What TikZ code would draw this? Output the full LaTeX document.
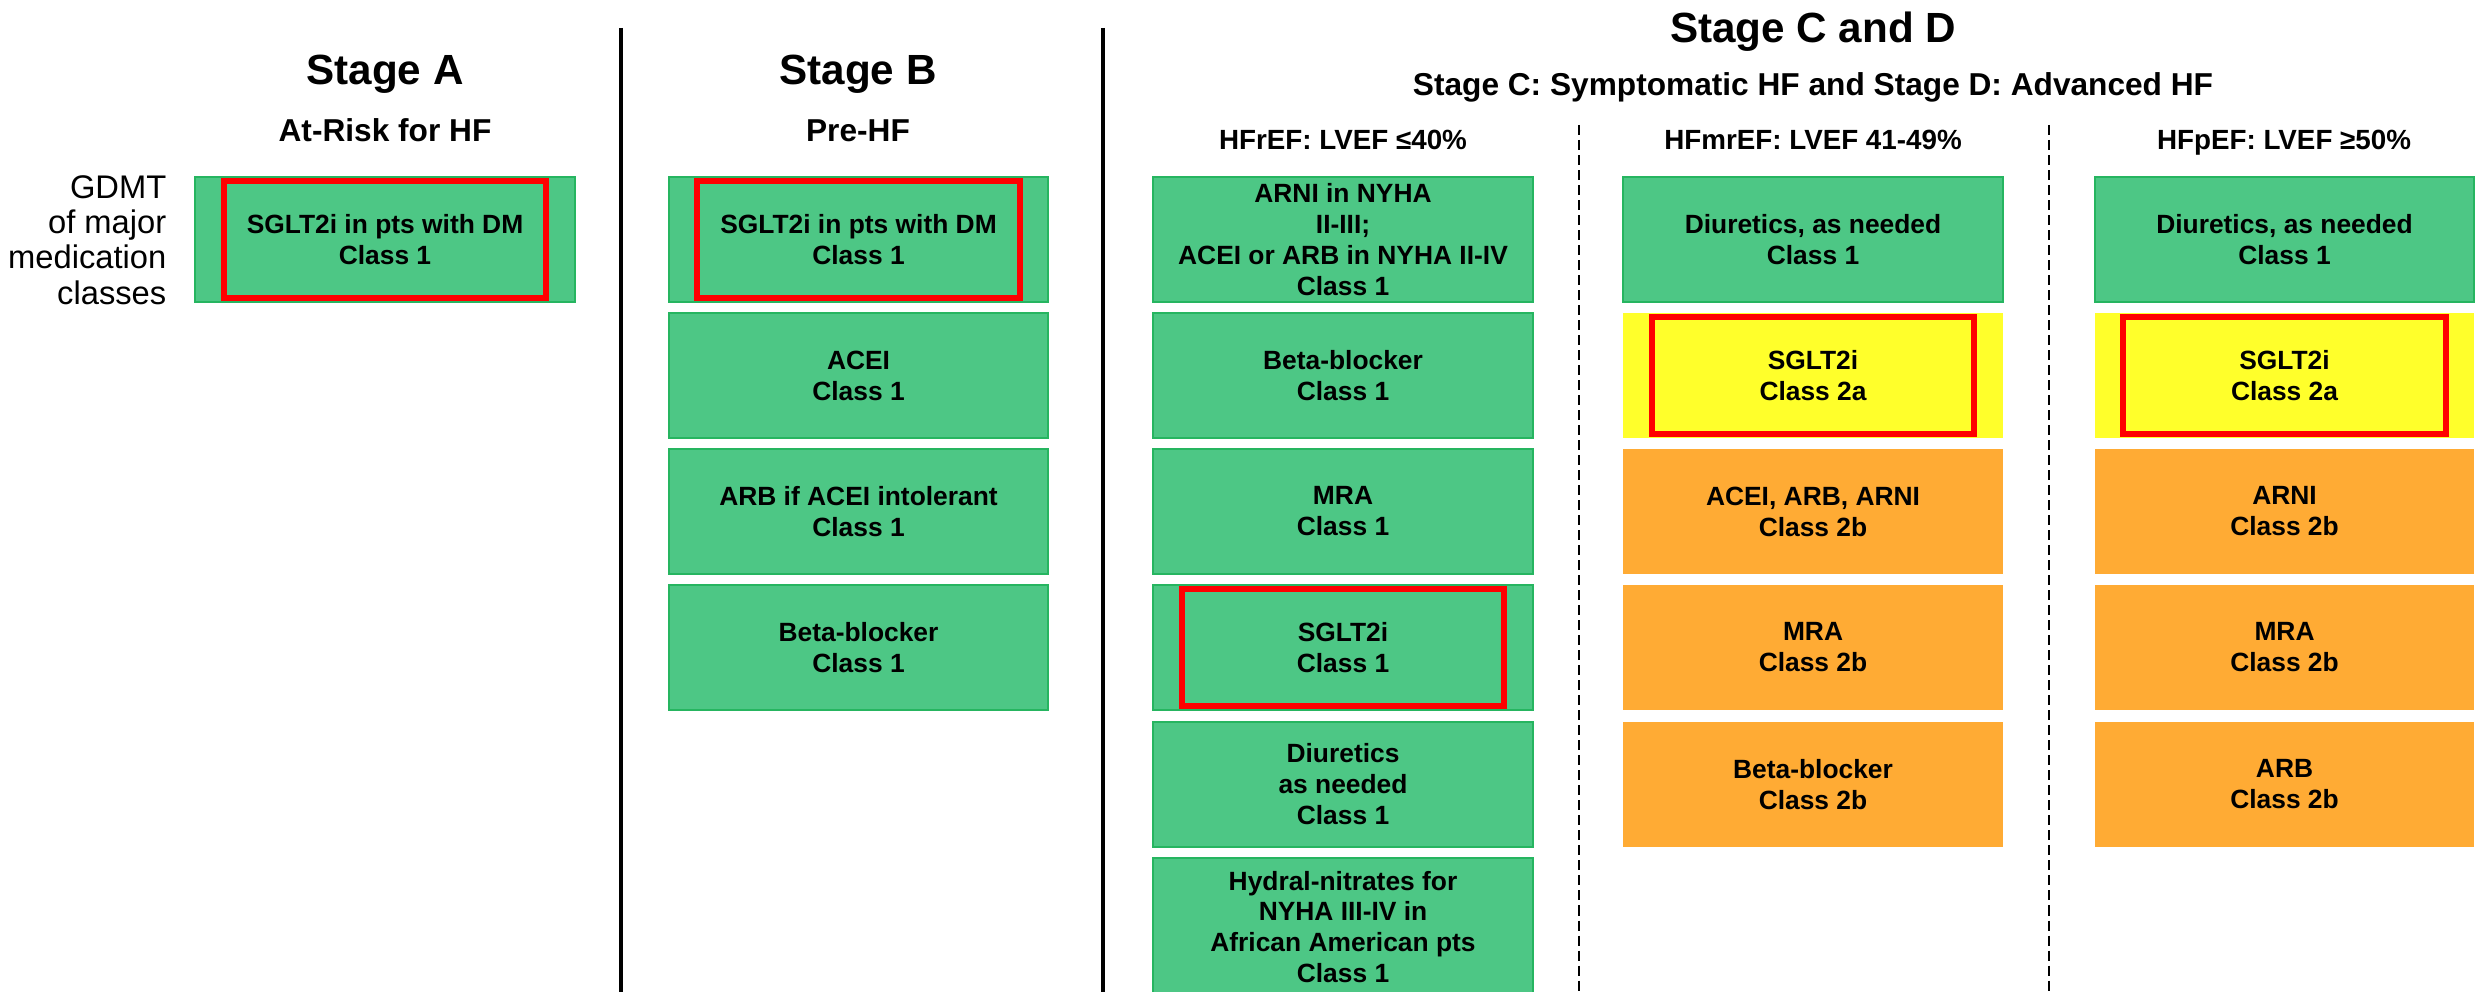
\documentclass[tikz,border=0pt]{standalone}
\usepackage{fontspec}
\setmainfont{Liberation Sans}
\usetikzlibrary{positioning}

\begin{document}
\begin{tikzpicture}[x=0.01cm, y=-0.01cm]
			\definecolor{drugGreen}{RGB}{77, 199, 133}
			\definecolor{drugGreenLine}{RGB}{38, 181, 96}
			\definecolor{drugYellow}{RGB}{255, 255, 43}
			\definecolor{drugOrange}{RGB}{255, 171, 52}
			\definecolor{highlightRed}{RGB}{255, 0, 0}
			\tikzstyle{drug}=[rectangle, minimum width=3.79cm, minimum height=1.25cm, inner sep=0pt, outer sep=0pt, align=center, font=\fontsize{7.5}{8.8}\selectfont\bfseries]
			\tikzstyle{classOne}=[drug, fill=drugGreen, draw=drugGreenLine, line width=0.02cm]
			\tikzstyle{classTwoA}=[drug, fill=drugYellow]
			\tikzstyle{classTwoB}=[drug, fill=drugOrange]
			\tikzstyle{redframe}=[rectangle, draw=highlightRed, line width=0.06cm, minimum width=3.22cm, minimum height=1.16cm, inner sep=0pt]
			\tikzstyle{stage}=[anchor=base, inner sep=0pt, font=\fontsize{12}{14}\selectfont\bfseries]
			\tikzstyle{substage}=[anchor=base, inner sep=0pt, font=\fontsize{9}{11}\selectfont\bfseries]
			\tikzstyle{efgroup}=[anchor=base, inner sep=0pt, font=\fontsize{7.9}{9.5}\selectfont\bfseries]
			\tikzstyle{divider}=[black, line width=0.04cm]
			\tikzstyle{subdivider}=[black, line width=0.02cm, dash pattern=on 0.1cm off 0.05cm]

			\clip (0,0) rectangle (2483,992);

			\node [stage] (stageA) at (385,85) {Stage A};
			\node [substage] (riskA) at (385,142) {At-Risk for HF};
			\node [stage] (stageB) at (858,85) {Stage B};
			\node [substage] (riskB) at (858,142) {Pre-HF};
			\node [stage] (stageCD) at (1813,43) {Stage C and D};
			\node [substage] (riskCD) at (1813,96) {Stage C: Symptomatic HF and Stage D: Advanced HF};
			\node [efgroup] (hfref) at (1343,150) {HFrEF: LVEF ≤40\%};
			\node [efgroup] (hfmref) at (1813,150) {HFmrEF: LVEF 41-49\%};
			\node [efgroup] (hfpef) at (2284,150) {HFpEF: LVEF ≥50\%};

			\node [anchor=east, inner sep=0pt, align=right, font=\fontsize{9.3}{10}\selectfont] (gdmt) at (167,240) {GDMT\\of major\\medication\\classes};

			\node [classOne] (a1) at (385,239.5) {SGLT2i in pts with DM\\Class 1};

			\node [classOne] (b1) at (858.5,239.5) {SGLT2i in pts with DM\\Class 1};
			\node [classOne] (b2) at (858.5,375.5) {ACEI\\Class 1};
			\node [classOne] (b3) at (858.5,511.5) {ARB if ACEI intolerant\\Class 1};
			\node [classOne] (b4) at (858.5,647.5) {Beta-blocker\\Class 1};

			\node [classOne] (r1) at (1343,239.5) {ARNI in NYHA\\II-III;\\ACEI or ARB in NYHA II-IV\\Class 1};
			\node [classOne] (r2) at (1343,375.5) {Beta-blocker\\Class 1};
			\node [classOne] (r3) at (1343,511.5) {MRA\\Class 1};
			\node [classOne] (r4) at (1343,647.5) {SGLT2i\\Class 1};
			\node [classOne] (r5) at (1343,784.5) {Diuretics\\as needed\\Class 1};
			\node [classOne, minimum height=1.38cm] (r6) at (1343,927) {Hydral-nitrates for\\NYHA III-IV in\\African American pts\\Class 1};

			\node [classOne] (m1) at (1813,239.5) {Diuretics, as needed\\Class 1};
			\node [classTwoA] (m2) at (1813,375.5) {SGLT2i\\Class 2a};
			\node [classTwoB] (m3) at (1813,511.5) {ACEI, ARB, ARNI\\Class 2b};
			\node [classTwoB] (m4) at (1813,647.5) {MRA\\Class 2b};
			\node [classTwoB] (m5) at (1813,784.5) {Beta-blocker\\Class 2b};

			\node [classOne] (p1) at (2284.5,239.5) {Diuretics, as needed\\Class 1};
			\node [classTwoA] (p2) at (2284.5,375.5) {SGLT2i\\Class 2a};
			\node [classTwoB] (p3) at (2284.5,511.5) {ARNI\\Class 2b};
			\node [classTwoB] (p4) at (2284.5,647.5) {MRA\\Class 2b};
			\node [classTwoB] (p5) at (2284.5,784.5) {ARB\\Class 2b};

			\node [redframe] at (a1.center) {};
			\node [redframe] at (b1.center) {};
			\node [redframe] at (r4.center) {};
			\node [redframe] at (m2.center) {};
			\node [redframe] at (p2.center) {};

			\draw [divider] (621,28) -- (621,992);
			\draw [divider] (1103,28) -- (1103,992);
			\draw [subdivider] (1579,125) -- (1579,992);
			\draw [subdivider] (2049,125) -- (2049,992);
		\end{tikzpicture}
\end{document}
